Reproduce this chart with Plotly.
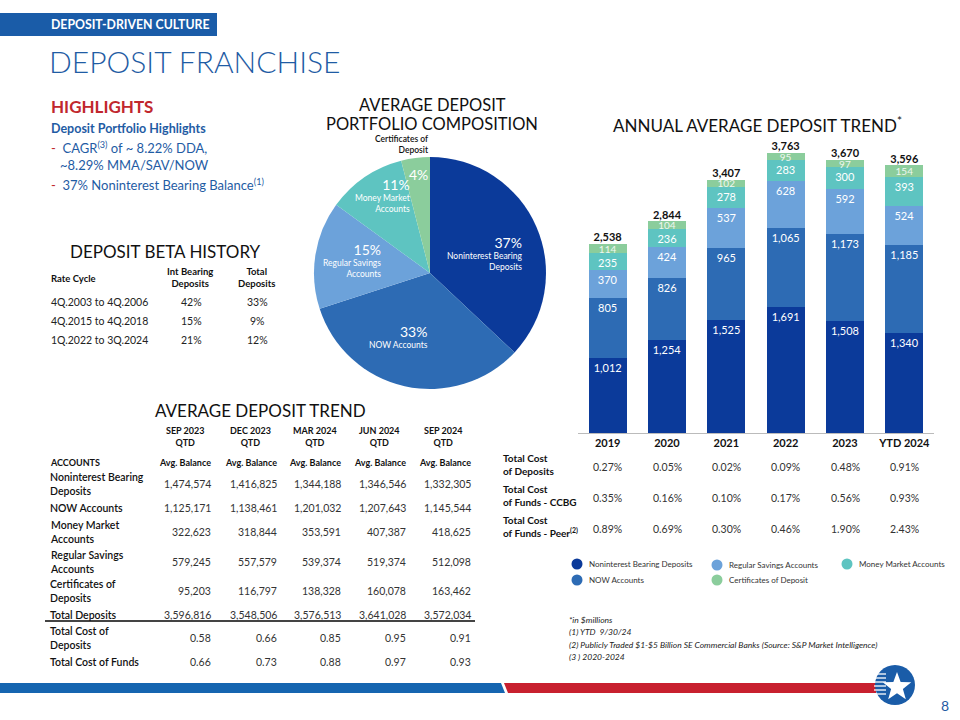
import math
import plotly.graph_objects as go

W, H = 960, 720
FONT = "Lato"
BLUE = "#1f5ca4"
RED = "#c1272d"

# 파이 차트 데이터 (평균 예금 포트폴리오 구성)
pie_labels = ["Noninterest Bearing Deposits", "NOW Accounts", "Regular Savings Accounts",
              "Money Market Accounts", "Certificates of Deposit"]
pie_values = [37, 33, 15, 11, 4]
colors = ["#0b3a9a", "#2d6bb4", "#6ca2da", "#5ec4c1", "#8bcd9c"]

# 연간 평균 예금 추이 ($millions)
years = ["2019", "2020", "2021", "2022", "2023", "YTD 2024"]
noninterest = [1012, 1254, 1525, 1691, 1508, 1340]
now_accts = [805, 826, 965, 1065, 1173, 1185]
savings = [370, 424, 537, 628, 592, 524]
money_market = [235, 236, 278, 283, 300, 393]
cds = [114, 104, 102, 95, 97, 154]
totals = [2538, 2844, 3407, 3763, 3670, 3596]

# 비용 표
cost_deposits = ["0.27%", "0.05%", "0.02%", "0.09%", "0.48%", "0.91%"]
cost_funds_ccbg = ["0.35%", "0.16%", "0.10%", "0.17%", "0.56%", "0.93%"]
cost_funds_peer = ["0.89%", "0.69%", "0.30%", "0.46%", "1.90%", "2.43%"]

# 예금 베타 히스토리
beta_cycles = ["4Q.2003 to 4Q.2006", "4Q.2015 to 4Q.2018", "1Q.2022 to 3Q.2024"]
beta_int = ["42%", "15%", "21%"]
beta_total = ["33%", "9%", "12%"]

# 분기별 평균 예금 추이
quarters = ["SEP 2023", "DEC 2023", "MAR 2024", "JUN 2024", "SEP 2024"]
row_labels = ["Noninterest Bearing<br>Deposits", "NOW Accounts", "Money Market<br>Accounts",
              "Regular Savings<br>Accounts", "Certificates of<br>Deposits", "Total Deposits",
              "Total Cost of<br>Deposits", "Total Cost of Funds"]
noninterest_qtd = [1474574, 1416825, 1344188, 1346546, 1332305]
now_qtd = [1125171, 1138461, 1201032, 1207643, 1145544]
mma_qtd = [322623, 318844, 353591, 407387, 418625]
savings_qtd = [579245, 557579, 539374, 519374, 512098]
cd_qtd = [95203, 116797, 138328, 160078, 163462]
total_qtd = [3596816, 3548506, 3576513, 3641028, 3572034]
cost_dep_qtd = [0.58, 0.66, 0.85, 0.95, 0.91]
cost_funds_qtd = [0.66, 0.73, 0.88, 0.97, 0.93]


def px(x):
    return x / W


def py(y):
    return 1 - y / H


fig = go.Figure()

# 막대 차트
series = [noninterest, now_accts, savings, money_market, cds]
for k, (name, vals, col) in enumerate(zip(pie_labels, series, colors)):
    last = k == len(series) - 1
    fig.add_trace(go.Bar(x=years, y=vals, name=name, marker=dict(color=col, line=dict(width=0)),
                         texttemplate="%{y:,}", textposition="inside",
                         insidetextanchor="middle" if last else "end",
                         textangle=0, constraintext="none",
                         textfont=dict(family=FONT, size=10 if last else 11,
                                       color="#eef7f0" if last else "white")))
fig.add_trace(go.Scatter(x=years, y=totals, mode="text", texttemplate="%{y:,}",
                         textposition="top center", cliponaxis=False,
                         textfont=dict(family=FONT, size=11, color="#111", weight="bold")))

# 파이 차트
fig.add_trace(go.Pie(labels=pie_labels, values=pie_values, sort=False, direction="clockwise",
                     marker=dict(colors=colors, line=dict(width=0)), textinfo="none",
                     hoverinfo="label+percent",
                     domain=dict(x=[px(314), px(546)], y=[py(389), py(157)])))

fig.update_layout(
    width=W, height=H, margin=dict(l=0, r=0, t=0, b=0),
    paper_bgcolor="white", plot_bgcolor="white", showlegend=False,
    barmode="stack", bargap=0.36,
    font=dict(family=FONT, color="#111"),
    xaxis=dict(type="category", domain=[px(578), px(934)], showline=True, linecolor="#bbbbbb",
               linewidth=1, ticks="", showgrid=False,
               tickfont=dict(family=FONT, size=11, color="#111", weight="bold")),
    yaxis=dict(domain=[py(433), py(140)], range=[0, 3938], visible=False),
)


def txt(x, y, s, size=11, color="#111", bold=False, anchor="left", italic=False, weight=None):
    fig.add_annotation(x=px(x), y=py(y), xref="paper", yref="paper", text=s, showarrow=False,
                       xanchor=anchor, yanchor="middle", align=anchor,
                       font=dict(family=FONT, size=size, color=color,
                                 weight=weight or ("bold" if bold else "normal"),
                                 style="italic" if italic else "normal"))


# 헤더
fig.add_shape(type="rect", xref="paper", yref="paper", x0=0, x1=px(217), y0=py(36), y1=py(13),
              fillcolor="#1a5ca8", line=dict(width=0))
txt(49, 25, "DEPOSIT-DRIVEN CULTURE", 12.3, "white", bold=True)
txt(47, 61, "DEPOSIT FRANCHISE", 30, BLUE, weight=300)

# 하이라이트
txt(49, 106, "HIGHLIGHTS", 17, RED, bold=True)
txt(49, 128, "Deposit Portfolio Highlights", 12.5, BLUE, bold=True)
txt(49, 148, "<span style='color:#c1272d'>-</span>  CAGR<sup>(3)</sup> of ~ 8.22% DDA,", 13, BLUE)
txt(58, 165, "~8.29% MMA/SAV/NOW", 13, BLUE)
txt(49, 185, "<span style='color:#c1272d'>-</span>  37% Noninterest Bearing Balance<sup>(1)</sup>", 13, BLUE)

# 예금 베타 히스토리
txt(165, 251, "DEPOSIT BETA HISTORY", 17, "#111", anchor="center")
txt(49, 278, "Rate Cycle", 9.5, bold=True)
txt(190, 277, "Int Bearing<br>Deposits", 9.5, bold=True, anchor="center")
txt(256, 277, "Total<br>Deposits", 9.5, bold=True, anchor="center")
for i, cyc in enumerate(beta_cycles):
    yy = 302 + i * 19
    txt(49, yy, cyc, 10.5, "#222")
    txt(191, yy, beta_int[i], 10.5, "#222", anchor="center")
    txt(257, yy, beta_total[i], 10.5, "#222", anchor="center")

# 파이 제목 및 라벨
txt(432, 105, "AVERAGE DEPOSIT", 16.5, anchor="center")
txt(432, 124, "PORTFOLIO COMPOSITION", 16.5, anchor="center")
txt(431, 145, "Certificates of<br>Deposit", 8.5, "#111", anchor="right", weight=600)
pie_label_pos = [(524, 232), (430, 321), (383, 239), (412, 174), (430, 164)]
pie_names = ["Noninterest Bearing<br>Deposits", "NOW Accounts", "Regular Savings<br>Accounts",
             "Money Market<br>Accounts", ""]
for (x, y), v, nm in zip(pie_label_pos, pie_values, pie_names):
    s = f"<span style='font-size:14px'>{v}%</span>"
    if nm:
        s += f"<br>{nm}"
    fig.add_annotation(x=px(x), y=py(y), xref="paper", yref="paper", text=s, showarrow=False,
                       xanchor="right", yanchor="top", align="right",
                       font=dict(family=FONT, size=8.5, color="white"))

# 막대 차트 제목
txt(757, 124, "ANNUAL AVERAGE DEPOSIT TREND<sup>*</sup>", 17, anchor="center")

# 비용 표 (막대 아래) - x는 카테고리 인덱스
cost_rows = [("Total Cost<br>of Deposits", cost_deposits, 467),
             ("Total Cost<br>of Funds - CCBG", cost_funds_ccbg, 498),
             ("Total Cost<br>of Funds - Peer<sup>(2)</sup>", cost_funds_peer, 529)]
for lab, vals, yy in cost_rows:
    txt(501, yy - 3, lab, 10, "#111", bold=True)
    for i, v in enumerate(vals):
        fig.add_annotation(x=i, y=py(yy), xref="x", yref="paper", text=v, showarrow=False,
                           yanchor="middle", font=dict(family=FONT, size=10.5, color="#333"))

# 범례
legend_items = [(577, 564, 0), (577, 580, 1), (717, 565, 2), (717, 580, 4), (847, 564, 3)]
for x, y, k in legend_items:
    fig.add_shape(type="circle", xref="paper", yref="paper", x0=px(x - 5.5), x1=px(x + 5.5),
                  y0=py(y + 5.5), y1=py(y - 5.5), fillcolor=colors[k], line=dict(width=0))
    txt(x + 10, y, pie_labels[k], 8, "#333")

# 분기별 평균 예금 추이 표
txt(260, 410, "AVERAGE DEPOSIT TREND", 17, anchor="center")
col_right = [213, 279, 343, 408, 473]
col_center = [185, 250, 315, 379, 443]
for q, xc, xr in zip(quarters, col_center, col_right):
    txt(xc, 437, q + "<br>QTD", 9, bold=True, anchor="center")
    txt(xr, 462, "Avg. Balance", 9, bold=True, anchor="right")
txt(48, 462, "ACCOUNTS", 9, bold=True)

table_vals = [noninterest_qtd, now_qtd, mma_qtd, savings_qtd, cd_qtd, total_qtd,
              cost_dep_qtd, cost_funds_qtd]
row_y = [484, 508, 532, 562, 591, 615, 638, 662]
for lab, vals, yy in zip(row_labels, table_vals, row_y):
    txt(48, yy, lab, 10.5, "#111", weight=600)
    for v, xr in zip(vals, col_right):
        s = f"{v:,}" if isinstance(v, int) else f"{v:.2f}"
        txt(xr, yy, s, 10.5, "#333", anchor="right")
fig.add_shape(type="line", xref="paper", yref="paper", x0=px(45), x1=px(475), y0=py(621), y1=py(621),
              line=dict(color="#444", width=2))

# 각주
notes = ["*in $millions", "(1) YTD  9/30/24",
         "(2) Publicly Traded $1-$5 Billion SE Commercial Banks (Source: S&amp;P Market Intelligence)",
         "(3 ) 2020-2024"]
for i, n in enumerate(notes):
    txt(567, 620 + i * 12.3, n, 8.5, "#222", italic=True)

# 하단 바와 로고
fig.add_shape(type="path", xref="paper", yref="paper",
              path=f"M0,{py(683)} L{px(501)},{py(683)} L{px(505)},{py(693)} L0,{py(693)} Z",
              fillcolor="#1565b0", line=dict(width=0))
fig.add_shape(type="path", xref="paper", yref="paper",
              path=f"M{px(504)},{py(683)} L{px(876)},{py(683)} L{px(876)},{py(693)} L{px(508)},{py(693)} Z",
              fillcolor="#c8202f", line=dict(width=0))
fig.add_shape(type="circle", xref="paper", yref="paper", x0=px(875), x1=px(915), y0=py(705), y1=py(665),
              fillcolor="#1a5ca8", line=dict(width=0))
for yy in [674, 678, 682, 686, 690, 694]:
    fig.add_shape(type="line", xref="paper", yref="paper", x0=px(874), x1=px(886), y0=py(yy), y1=py(yy),
                  line=dict(color="white", width=1.3))
pts = []
for k in range(10):
    a = math.radians(-90 + k * 36)
    r = 15 if k % 2 == 0 else 6.2
    pts.append((897 + r * math.cos(a), 687 + r * math.sin(a)))
star = "M" + " L".join(f"{px(x)},{py(y)}" for x, y in pts) + " Z"
fig.add_shape(type="path", xref="paper", yref="paper", path=star, fillcolor="white", line=dict(width=0))
txt(945, 705, "8", 14, BLUE, anchor="center")

fig.write_html("out.html", config={"displayModeBar": False},
               post_script="document.body.style.margin='0';")
